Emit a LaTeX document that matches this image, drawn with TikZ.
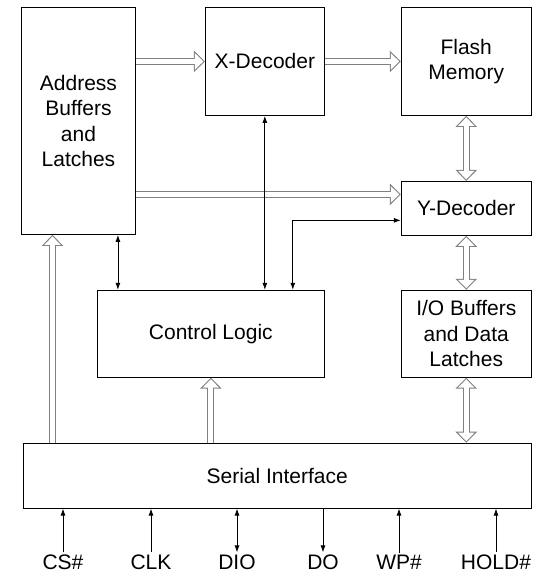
\documentclass[tikz,border=0pt]{standalone}
\usepackage{fontspec}
\setmainfont{Liberation Sans}
\usetikzlibrary{positioning,calc,arrows.meta}
\tikzset{
  blockBox/.style={
    rectangle,
    draw=black,
    line width=0.9pt,
    fill=white,
    inner sep=0pt,
    align=center,
    font=\fontsize{21}{25.5}\selectfont
  },
  thinArrow/.style={
    -{Latex[length=7pt,width=5pt]},
    line width=0.8pt
  },
  thinBoth/.style={
    {Latex[length=7pt,width=5pt]}-{Latex[length=7pt,width=5pt]},
    line width=0.8pt
  },
  busArrow/.style={
    draw=black!50,
    line width=7pt,
    -{Triangle[length=11pt,width=21pt]},
    postaction={draw=white, line width=5pt, -{Triangle[length=8.5pt,width=16pt]}, shorten >=1.5pt},
    postaction={draw=white, line width=5pt, -, shorten >=5pt}
  },
  busBoth/.style={
    draw=black!50,
    line width=7pt,
    {Triangle[length=11pt,width=21pt]}-{Triangle[length=11pt,width=21pt]},
    postaction={draw=white, line width=5pt, {Triangle[length=8.5pt,width=16pt]}-{Triangle[length=8.5pt,width=16pt]}, shorten >=1.5pt, shorten <=1.5pt},
    postaction={draw=white, line width=5pt, -, shorten >=5pt, shorten <=5pt}
  },
  pinLabel/.style={
    inner sep=2pt,
    font=\fontsize{21}{25}\selectfont
  }
}

\begin{document}
\begin{tikzpicture}[x=1pt,y=1pt]
        \useasboundingbox (0,0) rectangle (555,581);

        \node[blockBox, minimum width=114pt, minimum height=227pt, anchor=north west] (addr) at (21,574) {Address\\Buffers\\and\\Latches};
        \node[blockBox, minimum width=119pt, minimum height=108pt, below right=0pt and 69pt of addr.north east] (xdec) {X-Decoder};
        \node[blockBox, minimum width=130pt, minimum height=108pt, below right=0pt and 76pt of xdec.north east] (flash) {Flash\\Memory};
        \node[blockBox, minimum width=130pt, minimum height=54pt, below=65pt of flash] (ydec) {Y-Decoder};
        \node[blockBox, minimum width=130pt, minimum height=87pt, below=54pt of ydec] (io) {I/O Buffers\\and Data\\Latches};
        \node[blockBox, minimum width=227pt, minimum height=87pt, below left=0pt and 76pt of io.north west] (ctrl) {Control Logic};
        \node[blockBox, minimum width=508pt, minimum height=65pt, below left=65pt and 0pt of io.south east] (serial) {Serial Interface};

        % wide buses
        \coordinate (yIn) at ([yshift=-13.5pt]ydec.north west);
        \coordinate (addrIn) at ([xshift=31.5pt]addr.south west);
        \draw[busArrow] (addr.east |- xdec.west) -- (xdec.west);
        \draw[busArrow] (xdec.east) -- (flash.west);
        \draw[busArrow] (addr.east |- yIn) -- (yIn);
        \draw[busBoth] (flash.south) -- (ydec.north);
        \draw[busBoth] (ydec.south) -- (io.north);
        \draw[busBoth] (io.south) -- (io.south |- serial.north);
        \draw[busArrow] (addrIn |- serial.north) -- (addrIn);
        \draw[busArrow] (ctrl.south |- serial.north) -- (ctrl.south);

        % control lines
        \coordinate (ctrlA) at ([xshift=21pt]ctrl.north west);
        \coordinate (ctrlY) at ([xshift=-32pt]ctrl.north east);
        \draw[thinBoth] (ctrlA) -- (ctrlA |- addr.south);
        \draw[thinBoth] (xdec.south) -- (xdec.south |- ctrl.north);
        \draw[thinBoth] (ctrlY) |- ([yshift=-12pt]ydec.west);

        % pins
        \node[pinLabel] (pinCS) at (63,19) {CS\#};
        \node[pinLabel] (pinCLK) at (151,19) {CLK};
        \node[pinLabel] (pinDIO) at (237,19) {DIO};
        \node[pinLabel] (pinDO) at (323,19) {DO};
        \node[pinLabel] (pinWP) at (399,19) {WP\#};
        \node[pinLabel] (pinHOLD) at (496,19) {HOLD\#};

        \draw[thinArrow] (pinCS.north) -- (pinCS.north |- serial.south);
        \draw[thinArrow] (pinCLK.north) -- (pinCLK.north |- serial.south);
        \draw[thinBoth] (pinDIO.north) -- (pinDIO.north |- serial.south);
        \draw[thinArrow] (pinDO.north |- serial.south) -- (pinDO.north);
        \draw[thinArrow] (pinWP.north) -- (pinWP.north |- serial.south);
        \draw[thinArrow] (pinHOLD.north) -- (pinHOLD.north |- serial.south);
    \end{tikzpicture}
\end{document}
